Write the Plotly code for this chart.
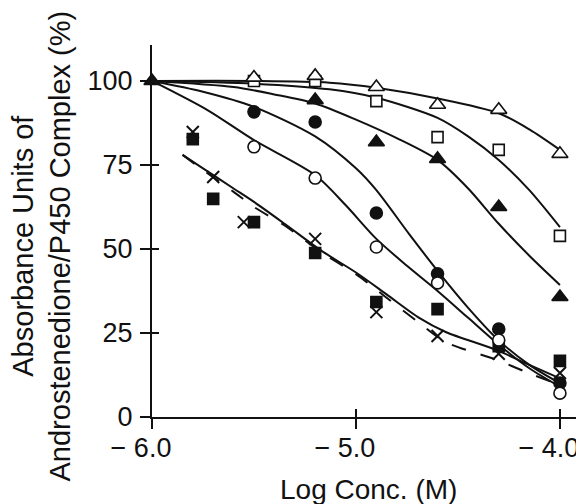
import plotly.graph_objects as go

# ---------------- data ----------------
# Open triangles
tri_open_x = [-5.5, -5.2, -4.9, -4.6, -4.3, -4.0]
tri_open_y = [101, 101.5, 98.2, 92.9, 91.4, 78.3]
tri_open_cx = [-6.0, -5.5, -5.13, -4.9, -4.6, -4.3, -4.15, -4.0]
tri_open_cy = [100, 100, 99.5, 98.0, 94.8, 90.4, 85.6, 79.5]

# Open squares
sq_open_x = [-5.5, -5.2, -4.9, -4.6, -4.3, -4.0]
sq_open_y = [100, 100, 94, 83.3, 79.5, 53.9]
sq_open_cx = [-6.0, -5.5, -5.13, -4.9, -4.6, -4.45, -4.3, -4.15, -4.0]
sq_open_cy = [100, 99.2, 97.5, 95.0, 89.0, 83.5, 76.5, 67.5, 56.5]

# Filled triangles
tri_fill_x = [-6.0, -5.2, -4.9, -4.6, -4.3, -4.0]
tri_fill_y = [100, 94.3, 81.8, 76.8, 62.5, 35.7]
tri_fill_cx = [-6.0, -5.6, -5.4, -5.2, -5.0, -4.8, -4.6, -4.45, -4.3, -4.15, -4.0]
tri_fill_cy = [100, 98.2, 96.0, 93.3, 88.5, 83.0, 76.5, 68.0, 57.5, 48.0, 39.3]

# Filled circles
circ_fill_x = [-5.5, -5.2, -4.9, -4.6, -4.3, -4.0]
circ_fill_y = [90.8, 87.8, 60.7, 42.6, 26.2, 10.1]
circ_fill_cx = [-6.0, -5.75, -5.5, -5.2, -5.0, -4.9, -4.74, -4.6, -4.45, -4.3, -4.15, -4.0]
circ_fill_cy = [100, 96.8, 92.3, 83.5, 74.0, 67.5, 54.5, 43.5, 32.5, 22.8, 15.5, 10.0]

# Open circles
circ_open_x = [-5.5, -5.2, -4.9, -4.6, -4.3, -4.0]
circ_open_y = [80.4, 71.1, 50.6, 39.9, 22.9, 7.1]
circ_open_cx = [-6.0, -5.73, -5.5, -5.2, -5.05, -4.9, -4.75, -4.6, -4.45, -4.3, -4.15, -4.0]
circ_open_cy = [100, 91.4, 82.4, 72.0, 63.0, 53.0, 45.0, 37.5, 29.5, 21.5, 14.5, 9.0]

# Filled squares
sq_fill_x = [-5.8, -5.7, -5.5, -5.2, -4.9, -4.6, -4.3, -4.0]
sq_fill_y = [82.7, 64.9, 58, 48.8, 34.2, 32.1, 21.1, 16.7]
sq_fill_cx = [-5.85, -5.75, -5.6, -5.5, -5.35, -5.17, -5.0, -4.85, -4.69, -4.56, -4.31, -4.15, -4.0]
sq_fill_cy = [78, 74, 68, 64, 57.5, 49.5, 43, 36.5, 29.5, 25.3, 19.9, 15.5, 11.5]

# Crosses
cross_x = [-5.8, -5.7, -5.55, -5.2, -4.9, -4.6, -4.3, -4.0]
cross_y = [84.8, 71.4, 58, 53, 31.2, 24.1, 18.8, 13.1]
cross_cx = [-5.85, -5.75, -5.6, -5.5, -5.35, -5.17, -5.0, -4.85, -4.69, -4.56, -4.31, -4.15, -4.0]
cross_cy = [78, 73.5, 67, 62.5, 57, 49, 42.5, 35.5, 28, 22.3, 17, 13, 9.5]

x_tick_vals = [-6.0, -5.0, -4.0]
x_tick_text = ["\u2212 6.0", "\u2212 5.0", "\u2212 4.0"]
y_tick_vals = [0, 25, 50, 75, 100]
y_tick_text = ["0", "25", "50", "75", "100"]

FONT = "Liberation Sans, Arial, Helvetica, sans-serif"
BLACK = "#111111"
TICK_SIZE = 27
YTITLE_SIZE = 29
XTITLE_SIZE = 28

fig = go.Figure()

curves = [
    (tri_open_cx, tri_open_cy, "solid"),
    (sq_open_cx, sq_open_cy, "solid"),
    (tri_fill_cx, tri_fill_cy, "solid"),
    (circ_fill_cx, circ_fill_cy, "solid"),
    (circ_open_cx, circ_open_cy, "solid"),
    (sq_fill_cx, sq_fill_cy, "solid"),
    (cross_cx, cross_cy, "longdash"),
]
for cx, cy, dash in curves:
    fig.add_trace(go.Scatter(x=cx, y=cy, mode="lines",
                             line=dict(color=BLACK, width=2, shape="spline", smoothing=0.8, dash=dash),
                             hoverinfo="skip", showlegend=False, cliponaxis=False))

markers = [
    (sq_fill_x, sq_fill_y, "square", BLACK, 11),
    (cross_x, cross_y, "x-thin-open", BLACK, 12),
    (circ_fill_x, circ_fill_y, "circle", BLACK, 12),
    (circ_open_x, circ_open_y, "circle", "white", 12),
    (tri_fill_x, tri_fill_y, "triangle-up", BLACK, 14),
    (sq_open_x, sq_open_y, "square", "white", 11),
    (tri_open_x, tri_open_y, "triangle-up", "white", 14),
]
for mx, my, sym, fill, size in markers:
    fig.add_trace(go.Scatter(x=mx, y=my, mode="markers",
                             marker=dict(symbol=sym, size=size, color=fill,
                                         line=dict(color=BLACK, width=2 if "x" in sym else 1.6)),
                             hoverinfo="skip", showlegend=False, cliponaxis=False))

# helper trace for the inner-tick axes
fig.add_trace(go.Scatter(x=[], y=[], xaxis="x2", yaxis="y2", showlegend=False, hoverinfo="skip"))

x_range = [-6.0, -3.882]
y_range = [0, 110.7]

# page has an 8px body margin: plot area sits at page x 152..584, y 45..417
fig.update_layout(
    template="none",
    width=576, height=496,
    margin=dict(l=144, r=0, t=37, b=87, autoexpand=False),
    paper_bgcolor="white", plot_bgcolor="white",
    font=dict(family=FONT, size=TICK_SIZE, color=BLACK),
    xaxis=dict(range=x_range, tickvals=x_tick_vals, ticktext=x_tick_text, automargin=False,
               showgrid=False, zeroline=False, showline=True, linecolor=BLACK, linewidth=2,
               ticks="outside", ticklen=10, tickwidth=2, tickcolor=BLACK,
               ticklabelstandoff=-4, ticklabelshift=-11, ticklabeloverflow="allow",
               tickfont=dict(family=FONT, size=TICK_SIZE, color=BLACK)),
    yaxis=dict(range=y_range, tickvals=y_tick_vals, ticktext=y_tick_text, automargin=False,
               showgrid=False, zeroline=False, showline=True, linecolor=BLACK, linewidth=2,
               ticks="outside", ticklen=10, tickwidth=2, tickcolor=BLACK, ticklabelstandoff=2,
               tickfont=dict(family=FONT, size=TICK_SIZE, color=BLACK)),
    xaxis2=dict(range=x_range, overlaying="x", anchor="y", side="bottom", tickvals=x_tick_vals,
                showticklabels=False, showgrid=False, zeroline=False, showline=False, automargin=False,
                ticks="inside", ticklen=8, tickwidth=2, tickcolor=BLACK),
    yaxis2=dict(range=y_range, overlaying="y", anchor="x", side="left", tickvals=y_tick_vals,
                showticklabels=False, showgrid=False, zeroline=False, showline=False, automargin=False,
                ticks="inside", ticklen=7, tickwidth=2, tickcolor=BLACK),
    annotations=[
        dict(text="Absorbance Units of<br>Androstenedione/P450 Complex (%)",
             xref="paper", yref="paper", x=(41.5 - 152) / 432, y=(417 - 246) / 372,
             xanchor="center", yanchor="middle", textangle=-90, showarrow=False,
             font=dict(family=FONT, size=YTITLE_SIZE, color=BLACK)),
        dict(text="Log Conc. (M)", xref="paper", yref="paper",
             x=0.5, y=(417 - 489) / 372, xanchor="center", yanchor="middle", showarrow=False,
             font=dict(family=FONT, size=XTITLE_SIZE, color=BLACK)),
    ],
)

fig.write_html("out.html")
